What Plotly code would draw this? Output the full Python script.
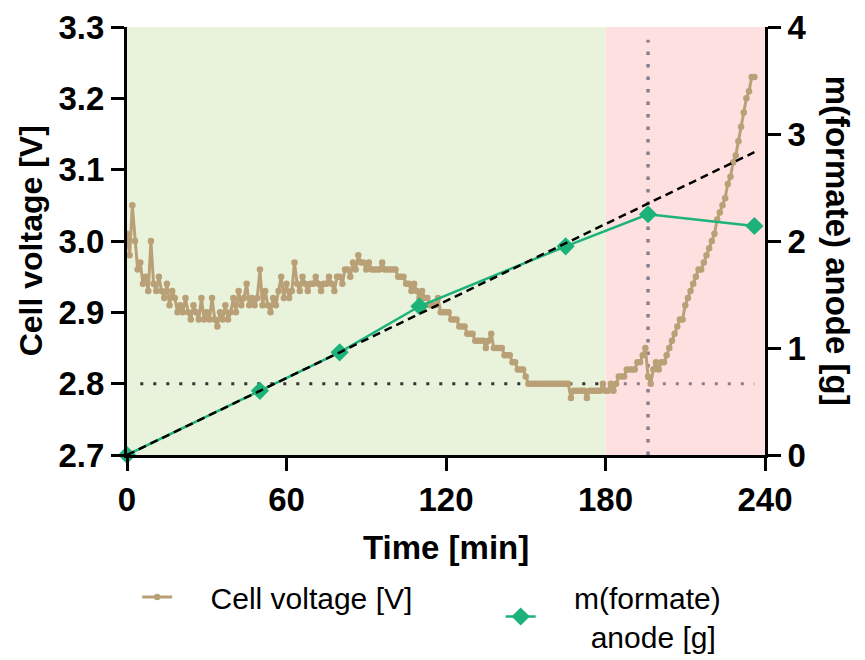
import plotly.graph_objects as go

# ---------------- data ----------------
time_min = list(range(0, 237))
cell_voltage = [
    3.01, 2.98, 3.05, 3.00, 2.96, 2.97, 2.94, 2.95, 2.93, 3.00,
    2.94, 2.93, 2.95, 2.93, 2.92, 2.94, 2.91, 2.93, 2.92, 2.90,
    2.91, 2.90, 2.92, 2.90, 2.89, 2.91, 2.90, 2.89, 2.92, 2.89,
    2.90, 2.89, 2.92, 2.89, 2.88, 2.90, 2.89, 2.91, 2.89, 2.90,
    2.92, 2.90, 2.93, 2.91, 2.92, 2.94, 2.91, 2.92, 2.91, 2.92,
    2.96, 2.91, 2.93, 2.91, 2.90, 2.92, 2.91, 2.93, 2.95, 2.92,
    2.94, 2.92, 2.93, 2.97, 2.94, 2.93, 2.95, 2.94, 2.93, 2.94,
    2.94, 2.95, 2.94, 2.93, 2.94, 2.94, 2.95, 2.94, 2.93, 2.95,
    2.95, 2.94, 2.96, 2.96, 2.95, 2.97, 2.96, 2.98, 2.97, 2.97,
    2.96, 2.97, 2.96, 2.96, 2.96, 2.96, 2.97, 2.96, 2.96, 2.96,
    2.96, 2.96, 2.95, 2.95, 2.95, 2.94, 2.94, 2.93, 2.94, 2.93,
    2.92, 2.93, 2.92, 2.92, 2.91, 2.91, 2.91, 2.92, 2.90, 2.90,
    2.90, 2.90, 2.89, 2.89, 2.89, 2.88, 2.88, 2.88, 2.87, 2.87,
    2.87, 2.86, 2.86, 2.86, 2.86, 2.85, 2.86, 2.87, 2.85, 2.85,
    2.85, 2.85, 2.84, 2.84, 2.84, 2.83, 2.83, 2.82, 2.82, 2.82,
    2.81, 2.80, 2.80, 2.80, 2.80, 2.80, 2.80, 2.80, 2.80, 2.80,
    2.80, 2.80, 2.80, 2.80, 2.80, 2.80, 2.80, 2.78, 2.79, 2.79,
    2.79, 2.79, 2.79, 2.78, 2.79, 2.79, 2.79, 2.79, 2.79, 2.80,
    2.79, 2.79, 2.80, 2.79, 2.80, 2.81, 2.81, 2.81, 2.82, 2.82,
    2.82, 2.82, 2.83, 2.83, 2.84, 2.85, 2.81, 2.80, 2.82, 2.83,
    2.82, 2.83, 2.83, 2.84, 2.85, 2.86, 2.87, 2.88, 2.89, 2.89,
    2.91, 2.92, 2.93, 2.94, 2.95, 2.96, 2.96, 2.97, 2.98, 2.99,
    3.00, 3.01, 3.03, 3.04, 3.05, 3.06, 3.08, 3.09, 3.11, 3.12,
    3.14, 3.16, 3.18, 3.20, 3.21, 3.23, 3.23,
]

formate_time = [0, 50, 80, 110, 165, 196, 236]
formate_mass = [0.0, 0.60, 0.96, 1.39, 1.95, 2.25, 2.14]

fit_time = [0, 236]
fit_mass = [0.0, 2.83]

phase_bounds = [0, 180, 240]          # green phase, red phase
ref_voltage = 2.8                     # horizontal dotted line
ref_time = 196                        # vertical dotted line

x_ticks = [0, 60, 120, 180, 240]
y_ticks = [2.7, 2.8, 2.9, 3.0, 3.1, 3.2, 3.3]
y2_ticks = [0, 1, 2, 3, 4]

# ---------------- styles ----------------
FONT = "Liberation Sans"
TAN = "#b9a077"
GREEN = "#1db27a"
NB = "\u00a0"

fig = go.Figure()

fig.add_trace(go.Scatter(
    x=time_min, y=cell_voltage, mode="lines+markers",
    name=NB * 4 + "Cell voltage [V]" + NB * 10 + "\u200b",
    line=dict(color=TAN, width=3),
    marker=dict(color=TAN, size=6.5),
    yaxis="y",
))

fig.add_trace(go.Scatter(
    x=formate_time, y=formate_mass, mode="lines+markers",
    name=NB * 4 + "m(formate)<br>" + NB * 6 + "anode [g]",
    line=dict(color=GREEN, width=2.5),
    marker=dict(color=GREEN, size=14, symbol="diamond"),
    yaxis="y2", cliponaxis=False,
))

fig.add_trace(go.Scatter(
    x=fit_time, y=fit_mass, mode="lines",
    line=dict(color="black", width=2.5, dash="8px,5px"),
    yaxis="y2", showlegend=False, hoverinfo="skip",
))

shapes = [
    dict(type="rect", xref="x", yref="paper", x0=phase_bounds[0], x1=phase_bounds[1],
         y0=0, y1=1, fillcolor="#e9f3dc", line=dict(width=0), layer="below"),
    dict(type="rect", xref="x", yref="paper", x0=phase_bounds[1], x1=phase_bounds[2],
         y0=0, y1=1, fillcolor="#fde0df", line=dict(width=0), layer="below"),
    dict(type="line", xref="x", yref="y", x0=5, x1=phase_bounds[1],
         y0=ref_voltage, y1=ref_voltage,
         line=dict(color="#333333", width=3, dash="3px,10px"), layer="below"),
    dict(type="line", xref="x", yref="y", x0=phase_bounds[1] + 2, x1=236,
         y0=ref_voltage, y1=ref_voltage,
         line=dict(color="#8c7f8c", width=3, dash="3px,10px"), layer="below"),
    dict(type="line", xref="x", yref="paper", x0=ref_time, x1=ref_time,
         y0=0, y1=0.97,
         line=dict(color="#8c7f8c", width=3.5, dash="3.5px,9px"), layer="below"),
]

tickfont = dict(family=FONT, size=33, color="black", weight="bold")
axis_common = dict(showline=True, linecolor="black", linewidth=3, ticks="outside",
                   ticklen=13, tickwidth=3, tickcolor="black", showgrid=False,
                   zeroline=False, tickfont=tickfont)

fig.update_layout(
    width=865, height=660,
    margin=dict(l=127, r=100, t=27, b=205, autoexpand=False),
    paper_bgcolor="white", plot_bgcolor="white",
    shapes=shapes,
    xaxis=dict(range=[0, 240], tickvals=x_ticks, **axis_common),
    yaxis=dict(range=[2.7, 3.3], tickvals=y_ticks, tickformat=".1f", **axis_common),
    yaxis2=dict(range=[0, 4], tickvals=y2_ticks, overlaying="y", side="right",
                **axis_common),
    showlegend=True,
    legend=dict(orientation="h", x=0.016, xanchor="left", y=-0.271, yanchor="top",
                font=dict(family=FONT, size=30, color="black"),
                bgcolor="rgba(0,0,0,0)", tracegroupgap=0),
    annotations=[
        dict(text="Time [min]", xref="paper", yref="paper", x=0.5, y=-0.217,
             showarrow=False, xanchor="center", yanchor="middle",
             font=dict(family=FONT, size=33, color="black", weight="bold")),
        dict(text="Cell voltage [V]", xref="paper", yref="paper", x=-0.15, y=0.5,
             showarrow=False, xanchor="center", yanchor="middle", textangle=-90,
             font=dict(family=FONT, size=32, color="black", weight="bold")),
        dict(text="m(formate) anode [g]", xref="paper", yref="paper", x=1.115, y=0.5,
             showarrow=False, xanchor="center", yanchor="middle", textangle=90,
             font=dict(family=FONT, size=33, color="black", weight="bold")),
    ],
)

fig.write_html("out.html")
